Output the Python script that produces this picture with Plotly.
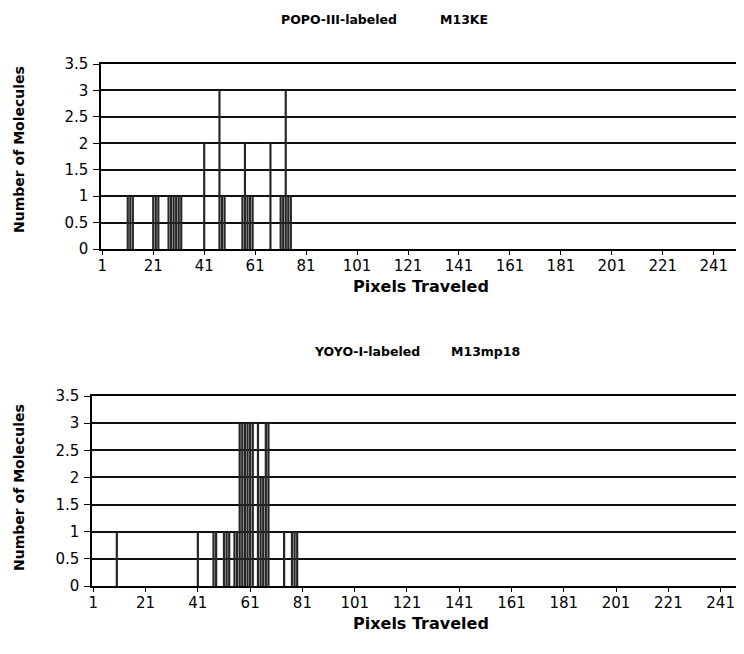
import plotly.graph_objects as go

# ---- data ----
popo_pixels = [11, 12, 13, 21, 22, 23, 27, 28, 29, 30, 31, 32, 41, 47, 48, 49,
               56, 57, 58, 59, 60, 67, 71, 72, 73, 74, 75]
popo_counts = [1, 1, 1, 1, 1, 1, 1, 1, 1, 1, 1, 1, 2, 3, 1, 1,
               1, 2, 1, 1, 1, 2, 1, 1, 3, 1, 1]

yoyo_pixels = [10, 41, 47, 48, 51, 52, 53, 55, 56, 57, 58, 59, 60, 61, 62, 64,
               65, 66, 67, 68, 74, 77, 78, 79]
yoyo_counts = [1, 1, 1, 1, 1, 1, 1, 1, 1, 3, 3, 3, 3, 3, 3, 3,
               2, 2, 3, 3, 1, 1, 1, 1]

x_tick_labels = [1, 21, 41, 61, 81, 101, 121, 141, 161, 181, 201, 221, 241]
y_tick_vals = [0, 0.5, 1, 1.5, 2, 2.5, 3, 3.5]
y_tick_text = ["0", "0.5", "1", "1.5", "2", "2.5", "3", "3.5"]

title_top_dye, title_top_dna = "POPO-III-labeled", "M13KE"
title_bot_dye, title_bot_dna = "YOYO-I-labeled", "M13mp18"
x_title = "Pixels Traveled"
y_title = "Number of Molecules"

W, H = 744, 654
OFF = 8  # page body margin
FONT = "DejaVu Sans, sans-serif"


def fx(p):
    return (p - OFF) / W


def fy(p):
    return 1 - (p - OFF) / H


fig = go.Figure()
fig.add_trace(go.Bar(x=popo_pixels, y=popo_counts, xaxis="x", yaxis="y",
                     marker=dict(color="#262626", line=dict(width=0)),
                     showlegend=False))
fig.add_trace(go.Bar(x=yoyo_pixels, y=yoyo_counts, xaxis="x2", yaxis="y2",
                     marker=dict(color="#262626", line=dict(width=0)),
                     showlegend=False))

tickfont = dict(family=FONT, size=15, color="black")

xcommon = dict(tickmode="array", tickvals=x_tick_labels,
               ticktext=[str(v) for v in x_tick_labels],
               ticks="outside", ticklen=4, tickcolor="black", tickwidth=1,
               showline=True, linecolor="black", linewidth=1.5,
               showgrid=False, zeroline=False, tickfont=tickfont,
               ticklabelstandoff=-2, automargin=False)
ycommon = dict(tickmode="array", tickvals=y_tick_vals, ticktext=y_tick_text,
               range=[0, 3.5], ticks="outside", ticklen=6, tickcolor="black",
               tickwidth=1, showline=True, linecolor="black", linewidth=1.5,
               showgrid=True, gridcolor="#111111", gridwidth=1.6,
               zeroline=False, tickfont=tickfont, ticklabelstandoff=2,
               automargin=False)

fig.update_layout(
    template="none",
    width=W, height=H,
    margin=dict(l=0, r=0, t=0, b=0, autoexpand=False),
    paper_bgcolor="white", plot_bgcolor="white",
    bargap=0.15,
    xaxis=dict(domain=[fx(101), fx(738)], range=[0.5, 250.5], anchor="y",
               mirror=True, **xcommon),
    yaxis=dict(domain=[fy(249), fy(64)], anchor="x", mirror=True, **ycommon),
    xaxis2=dict(domain=[fx(92), 1], range=[0.5, 253.0], anchor="y2",
                mirror=True, **xcommon),
    yaxis2=dict(domain=[fy(586), fy(396)], anchor="x2", mirror=False, **ycommon),
)

ttl = dict(family=FONT, size=12.5, color="black")
big = dict(family=FONT, size=16, color="black")
ytf = dict(family=FONT, size=14, color="black")
ann = [
    dict(text="<b>%s</b>" % title_top_dye, x=fx(339), y=fy(19), font=ttl),
    dict(text="<b>%s</b>" % title_top_dna, x=fx(464), y=fy(19), font=ttl),
    dict(text="<b>%s</b>" % title_bot_dye, x=fx(367), y=fy(351), font=ttl),
    dict(text="<b>%s</b>" % title_bot_dna, x=fx(485), y=fy(351), font=ttl),
    dict(text="<b>%s</b>" % x_title, x=fx(421), y=fy(286), font=big),
    dict(text="<b>%s</b>" % x_title, x=fx(421), y=fy(623), font=big),
    dict(text="<b>%s</b>" % y_title, x=fx(19), y=fy(150), textangle=-90, font=ytf),
    dict(text="<b>%s</b>" % y_title, x=fx(19), y=fy(488), textangle=-90, font=ytf),
]
for a in ann:
    a.update(xref="paper", yref="paper", showarrow=False,
             xanchor="center", yanchor="middle")
fig.update_layout(annotations=ann)

fig.write_html("out.html")
